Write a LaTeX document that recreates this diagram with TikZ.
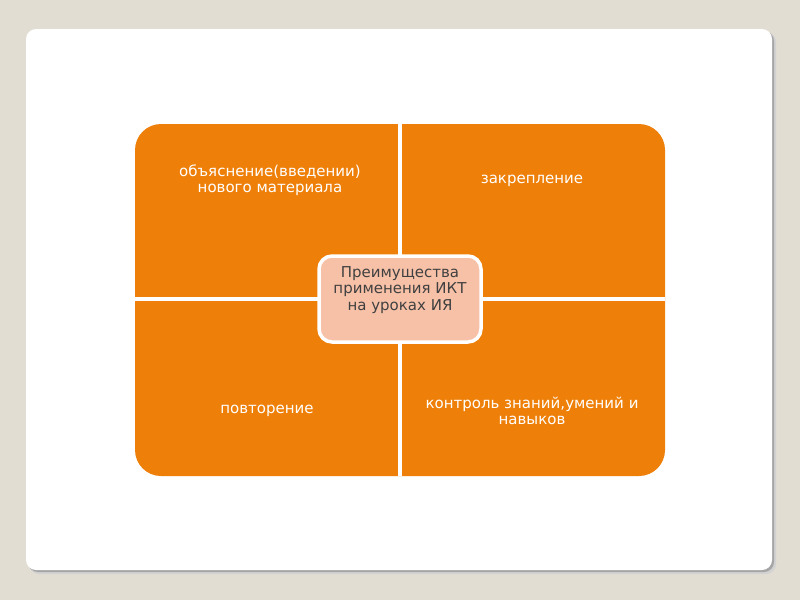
\documentclass[tikz,border=0pt]{standalone}
\usepackage{fontspec}
\setmainfont{DejaVu Sans}
\usetikzlibrary{positioning}
\definecolor{SlideBeige}{RGB}{226,221,211}
\definecolor{QuadOrange}{RGB}{238,127,8}
\definecolor{HubPeach}{RGB}{247,193,168}
\definecolor{HubText}{RGB}{64,64,64}
\definecolor{ShadowGray}{RGB}{165,165,165}

\begin{document}
\begin{tikzpicture}[
            x=1pt, y=-1pt,
            quad/.style={fill=QuadOrange, rounded corners=26pt},
            gap/.style={fill=white},
            quadtext/.style={text=white, font=\fontsize{15}{16.5}\selectfont, align=center},
            hub/.style={draw=white, line width=3.5pt, fill=HubPeach, rounded corners=13pt, minimum width=162pt, minimum height=86pt},
            hubtext/.style={text=HubText, align=center, font=\fontsize{15}{16.5}\selectfont}
        ]
            \fill[SlideBeige] (0,0) rectangle (800,600);
            % slide panel with its shadow
            \fill[ShadowGray!50, rounded corners=10pt] (29,32) rectangle (776,574);
            \fill[ShadowGray, rounded corners=10pt] (28,31) rectangle (774,572);
            \fill[white, rounded corners=10pt] (26,29) rectangle (772,570);

            % matrix of four quadrants
            \fill[quad] (135,124) rectangle (665,476);
            \fill[gap] (398,124) rectangle (402,476);
            \fill[gap] (135,297) rectangle (665,301);

            \node[quadtext] (explain) at (270,180) {объяснение(введении)\\нового материала};
            \node[quadtext] (consolidate) at (532,181) {закрепление};
            \node[quadtext] (repeat) at (267,411) {повторение};
            \node[quadtext] (control) at (532,411) {контроль знаний,умений и\\навыков};

            \node[hub] (hub) at (400,299) {};
            \node[hubtext] (hubtitle) at (400,290) {Преимущества\\применения ИКТ\\на уроках ИЯ};
        \end{tikzpicture}
\end{document}
